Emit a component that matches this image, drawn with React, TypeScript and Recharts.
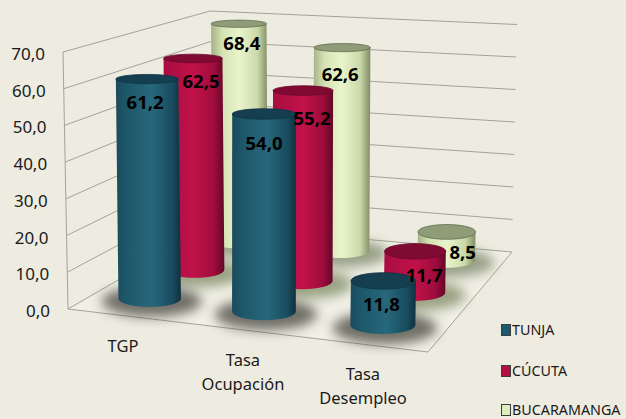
import { BarChart, Bar, XAxis, YAxis, CartesianGrid } from 'recharts'

// #region Data
const categories = ['TGP', 'Tasa Ocupación', 'Tasa Desempleo']
const tunja = [61.2, 54.0, 11.8]
const cucuta = [62.5, 55.2, 11.7]
const bucaramanga = [68.4, 62.6, 8.5]
const yTicks = [0, 10, 20, 30, 40, 50, 60, 70]
const legendNames = ['TUNJA', 'CÚCUTA', 'BUCARAMANGA']

const data = categories.map((name, i) => ({
  name,
  TUNJA: tunja[i],
  CUCUTA: cucuta[i],
  BUCARAMANGA: bucaramanga[i],
}))
// #endregion

const W = 626
const H = 419
const BG = '#eeece1'

// flat plot area = the front face of the 3D box
const PLOT = { left: 68, top: 52, width: 360, height: 257 }
const BAR_SIZE = 64
const UNIT = PLOT.height / 70

type Pt = [number, number]

// corners of the box: front-left, front-right, back-right, back-left
const FLOOR: Pt[] = [[68, 309], [428, 352], [512, 252], [212, 226]]
const CEIL: Pt[] = [[63, 52], [433, 79], [517, 24.5], [210, 11]]

const bilerp = (q: Pt[], u: number, v: number): Pt => {
  const w = [(1 - u) * (1 - v), u * (1 - v), u * v, (1 - u) * v]
  return [
    q.reduce((s, p, i) => s + p[0] * w[i], 0),
    q.reduce((s, p, i) => s + p[1] * w[i], 0),
  ]
}

const project = (u: number, v: number, t: number): Pt => {
  const a = bilerp(FLOOR, u, v)
  const b = bilerp(CEIL, u, v)
  return [a[0] + (b[0] - a[0]) * t, a[1] + (b[1] - a[1]) * t]
}

const rowDepth: Record<string, number> = { TUNJA: 0.2, CUCUTA: 0.535, BUCARAMANGA: 0.87 }
const drawOrder = ['BUCARAMANGA', 'CUCUTA', 'TUNJA']

const looks: Record<string, { grad: string; top: string; rim: string; shadow: string; alpha: number }> = {
  TUNJA: { grad: 'gTunja', top: '#153f50', rim: '#0f3342', shadow: '#45453e', alpha: 0.75 },
  CUCUTA: { grad: 'gCucuta', top: '#7f0b33', rim: '#6a0729', shadow: '#7d8862', alpha: 0.75 },
  BUCARAMANGA: { grad: 'gBuca', top: '#8f9c78', rim: '#5f6b4c', shadow: '#7c8568', alpha: 0.75 },
}

// label offsets from the top of the cylinder, [series][category]
const labelNudge: Record<string, Pt[]> = {
  TUNJA: [[-2, 22], [0, 29], [-2, 23]],
  CUCUTA: [[8, 22], [9, 27], [9, 23]],
  BUCARAMANGA: [[3, 19], [-2, 26], [16, 20]],
}

const ellipseRy = (y: number) => 3.2 + 0.018 * y

const geometry = (props: any, key: string) => {
  const { x, y, width, height } = props
  // band centre -> position along the floor, slightly bowed by the perspective
  const d = (x + width / 2 - PLOT.left) / PLOT.width - 1 / 6
  const u = 0.152 + d * 1.005 - 0.06 * d * (2 / 3 - d)
  const v = rowDepth[key]
  const t = height / PLOT.height
  const base = project(u, v, 0)
  const top = project(u, v, t)
  const k = (base[1] - project(u, v, 1)[1]) / 70
  const r = ((width * k) / UNIT) / 2
  return { base, top, r, flatY: y }
}

const Shadow = (key: string) => (props: any) => {
  const { base, r } = geometry(props, key)
  return (
    <ellipse
      cx={base[0] + 2}
      cy={base[1] + 3}
      rx={r * 1.6}
      ry={ellipseRy(base[1]) * 1.8}
      fill={looks[key].shadow}
      opacity={looks[key].alpha}
      filter="url(#soft)"
    />
  )
}

const Cylinder = (key: string) => (props: any) => {
  const { base, top, r } = geometry(props, key)
  const look = looks[key]
  const rb = ellipseRy(base[1])
  const rt = ellipseRy(top[1])
  const d = `M${base[0] - r},${base[1]} L${top[0] - r},${top[1]} L${top[0] + r},${top[1]} L${base[0] + r},${base[1]} A${r},${rb} 0 0 1 ${base[0] - r},${base[1]} Z`
  return (
    <g>
      <path d={d} fill={`url(#${look.grad})`} />
      <ellipse cx={top[0]} cy={top[1]} rx={r} ry={rt} fill={look.top} stroke={look.rim} strokeWidth={0.8} />
    </g>
  )
}

const ValueLabel = (key: string) => (props: any) => {
  const { top } = geometry(props, key)
  const nudge = labelNudge[key][props.index]
  return (
    <text
      x={top[0] + nudge[0]}
      y={top[1] + nudge[1]}
      textAnchor="middle"
      dominantBaseline="central"
      fontFamily="Noto Sans"
      fontWeight={700}
      fontSize={18.5}
      fill="#000"
    >
      {props.value.toFixed(1).replace('.', ',')}
    </text>
  )
}

const YTick = ({ y, payload }: any) => {
  const t = (PLOT.top + PLOT.height - y) / PLOT.height
  const p = project(0, 0, t)
  return (
    <text x={p[0] - 18} y={y + 1.5} textAnchor="end" dominantBaseline="central" fontFamily="Noto Sans" fontSize={17} fill="#1a1a1a">
      {payload.value.toFixed(1).replace('.', ',')}
    </text>
  )
}

const XTick = ({ x, payload }: any) => {
  const raw = (x - PLOT.left) / PLOT.width
  const p = project(raw, 0, 0)
  const lines = String(payload.value).split(' ')
  return (
    <g>
      {lines.map((line, i) => (
        <text
          key={line}
          x={p[0] - 5}
          y={p[1] + 29 + i * 24}
          textAnchor="middle"
          dominantBaseline="central"
          fontFamily="Noto Sans"
          fontSize={16.5}
          fill="#1a1a1a"
        >
          {line}
        </text>
      ))}
    </g>
  )
}

// grid lines run along the left wall and then the back wall
const WallLine = ({ y1 }: any) => {
  const t = (PLOT.top + PLOT.height - y1) / PLOT.height
  const pts = [project(0, 0, t), project(0, 1, t), project(1, 1, t)]
  const isFloor = Math.abs(t) < 0.001
  return (
    <g>
      {isFloor && (
        <polygon points={FLOOR.map((p) => p.join(',')).join(' ')} fill="#f1f0e6" stroke="#a3a39b" strokeWidth={1} />
      )}
      {isFloor && (
        <line x1={FLOOR[0][0]} y1={FLOOR[0][1]} x2={CEIL[0][0]} y2={CEIL[0][1]} stroke="#a3a39b" strokeWidth={1} />
      )}
      {!isFloor && <polyline points={pts.map((p) => p.join(',')).join(' ')} fill="none" stroke="#a3a39b" strokeWidth={1} />}
    </g>
  )
}

const swatches = ['#1d5a6f', '#b30f45', '#dfeebf']
const legendMid = [330, 371, 410]

export default function App() {
  return (
    <div style={{ position: 'absolute', left: 0, top: 0, width: W, height: H, background: BG, overflow: 'hidden' }}>
      <BarChart
        width={W}
        height={H}
        data={data}
        barSize={BAR_SIZE}
        barGap={-BAR_SIZE}
        margin={{ top: PLOT.top, left: PLOT.left - 60, right: W - PLOT.left - PLOT.width, bottom: H - PLOT.top - PLOT.height - 60 }}
      >
        <defs>
          <linearGradient id="gTunja" x1="0" y1="0" x2="1" y2="0">
            <stop offset="0" stopColor="#1c4a5b" />
            <stop offset="0.12" stopColor="#1c5568" />
            <stop offset="0.55" stopColor="#27687d" />
            <stop offset="0.88" stopColor="#174a5c" />
            <stop offset="1" stopColor="#102f3d" />
          </linearGradient>
          <linearGradient id="gCucuta" x1="0" y1="0" x2="1" y2="0">
            <stop offset="0" stopColor="#a90d41" />
            <stop offset="0.5" stopColor="#c0124a" />
            <stop offset="0.82" stopColor="#a00c3d" />
            <stop offset="1" stopColor="#640726" />
          </linearGradient>
          <linearGradient id="gBuca" x1="0" y1="0" x2="1" y2="0">
            <stop offset="0" stopColor="#a3b184" />
            <stop offset="0.2" stopColor="#d4e3b4" />
            <stop offset="0.5" stopColor="#e8f5cb" />
            <stop offset="0.82" stopColor="#cbd9a9" />
            <stop offset="1" stopColor="#7f8c64" />
          </linearGradient>
          <filter id="soft" x="-50%" y="-100%" width="200%" height="300%">
            <feGaussianBlur stdDeviation="6" />
          </filter>
        </defs>
        <CartesianGrid vertical={false} horizontal={WallLine as any} />
        <XAxis dataKey="name" height={60} axisLine={false} tickLine={false} interval={0} tick={XTick as any} />
        <YAxis width={60} domain={[0, 70]} ticks={yTicks} axisLine={false} tickLine={false} interval={0} tick={YTick as any} />
        {drawOrder.map((key) => (
          <Bar key={`s-${key}`} dataKey={key} isAnimationActive={false} shape={Shadow(key) as any} />
        ))}
        {drawOrder.map((key) => (
          <Bar key={`c-${key}`} dataKey={key} isAnimationActive={false} shape={Cylinder(key) as any} />
        ))}
        {drawOrder.map((key) => (
          <Bar key={`l-${key}`} dataKey={key} isAnimationActive={false} shape={ValueLabel(key) as any} />
        ))}
      </BarChart>
      {legendNames.map((name, i) => (
        <div
          key={name}
          style={{
            position: 'absolute',
            left: 501,
            top: legendMid[i] - 8,
            height: 16,
            lineHeight: '16px',
            display: 'flex',
            alignItems: 'center',
            fontFamily: 'Noto Sans',
            fontSize: 14.3,
            color: '#1a1a1a',
            whiteSpace: 'nowrap',
          }}
        >
          <span style={{ width: 8, height: 10, background: swatches[i], border: '1px solid #3c3c3c', marginRight: 1 }} />
          {name}
        </div>
      ))}
    </div>
  )
}
